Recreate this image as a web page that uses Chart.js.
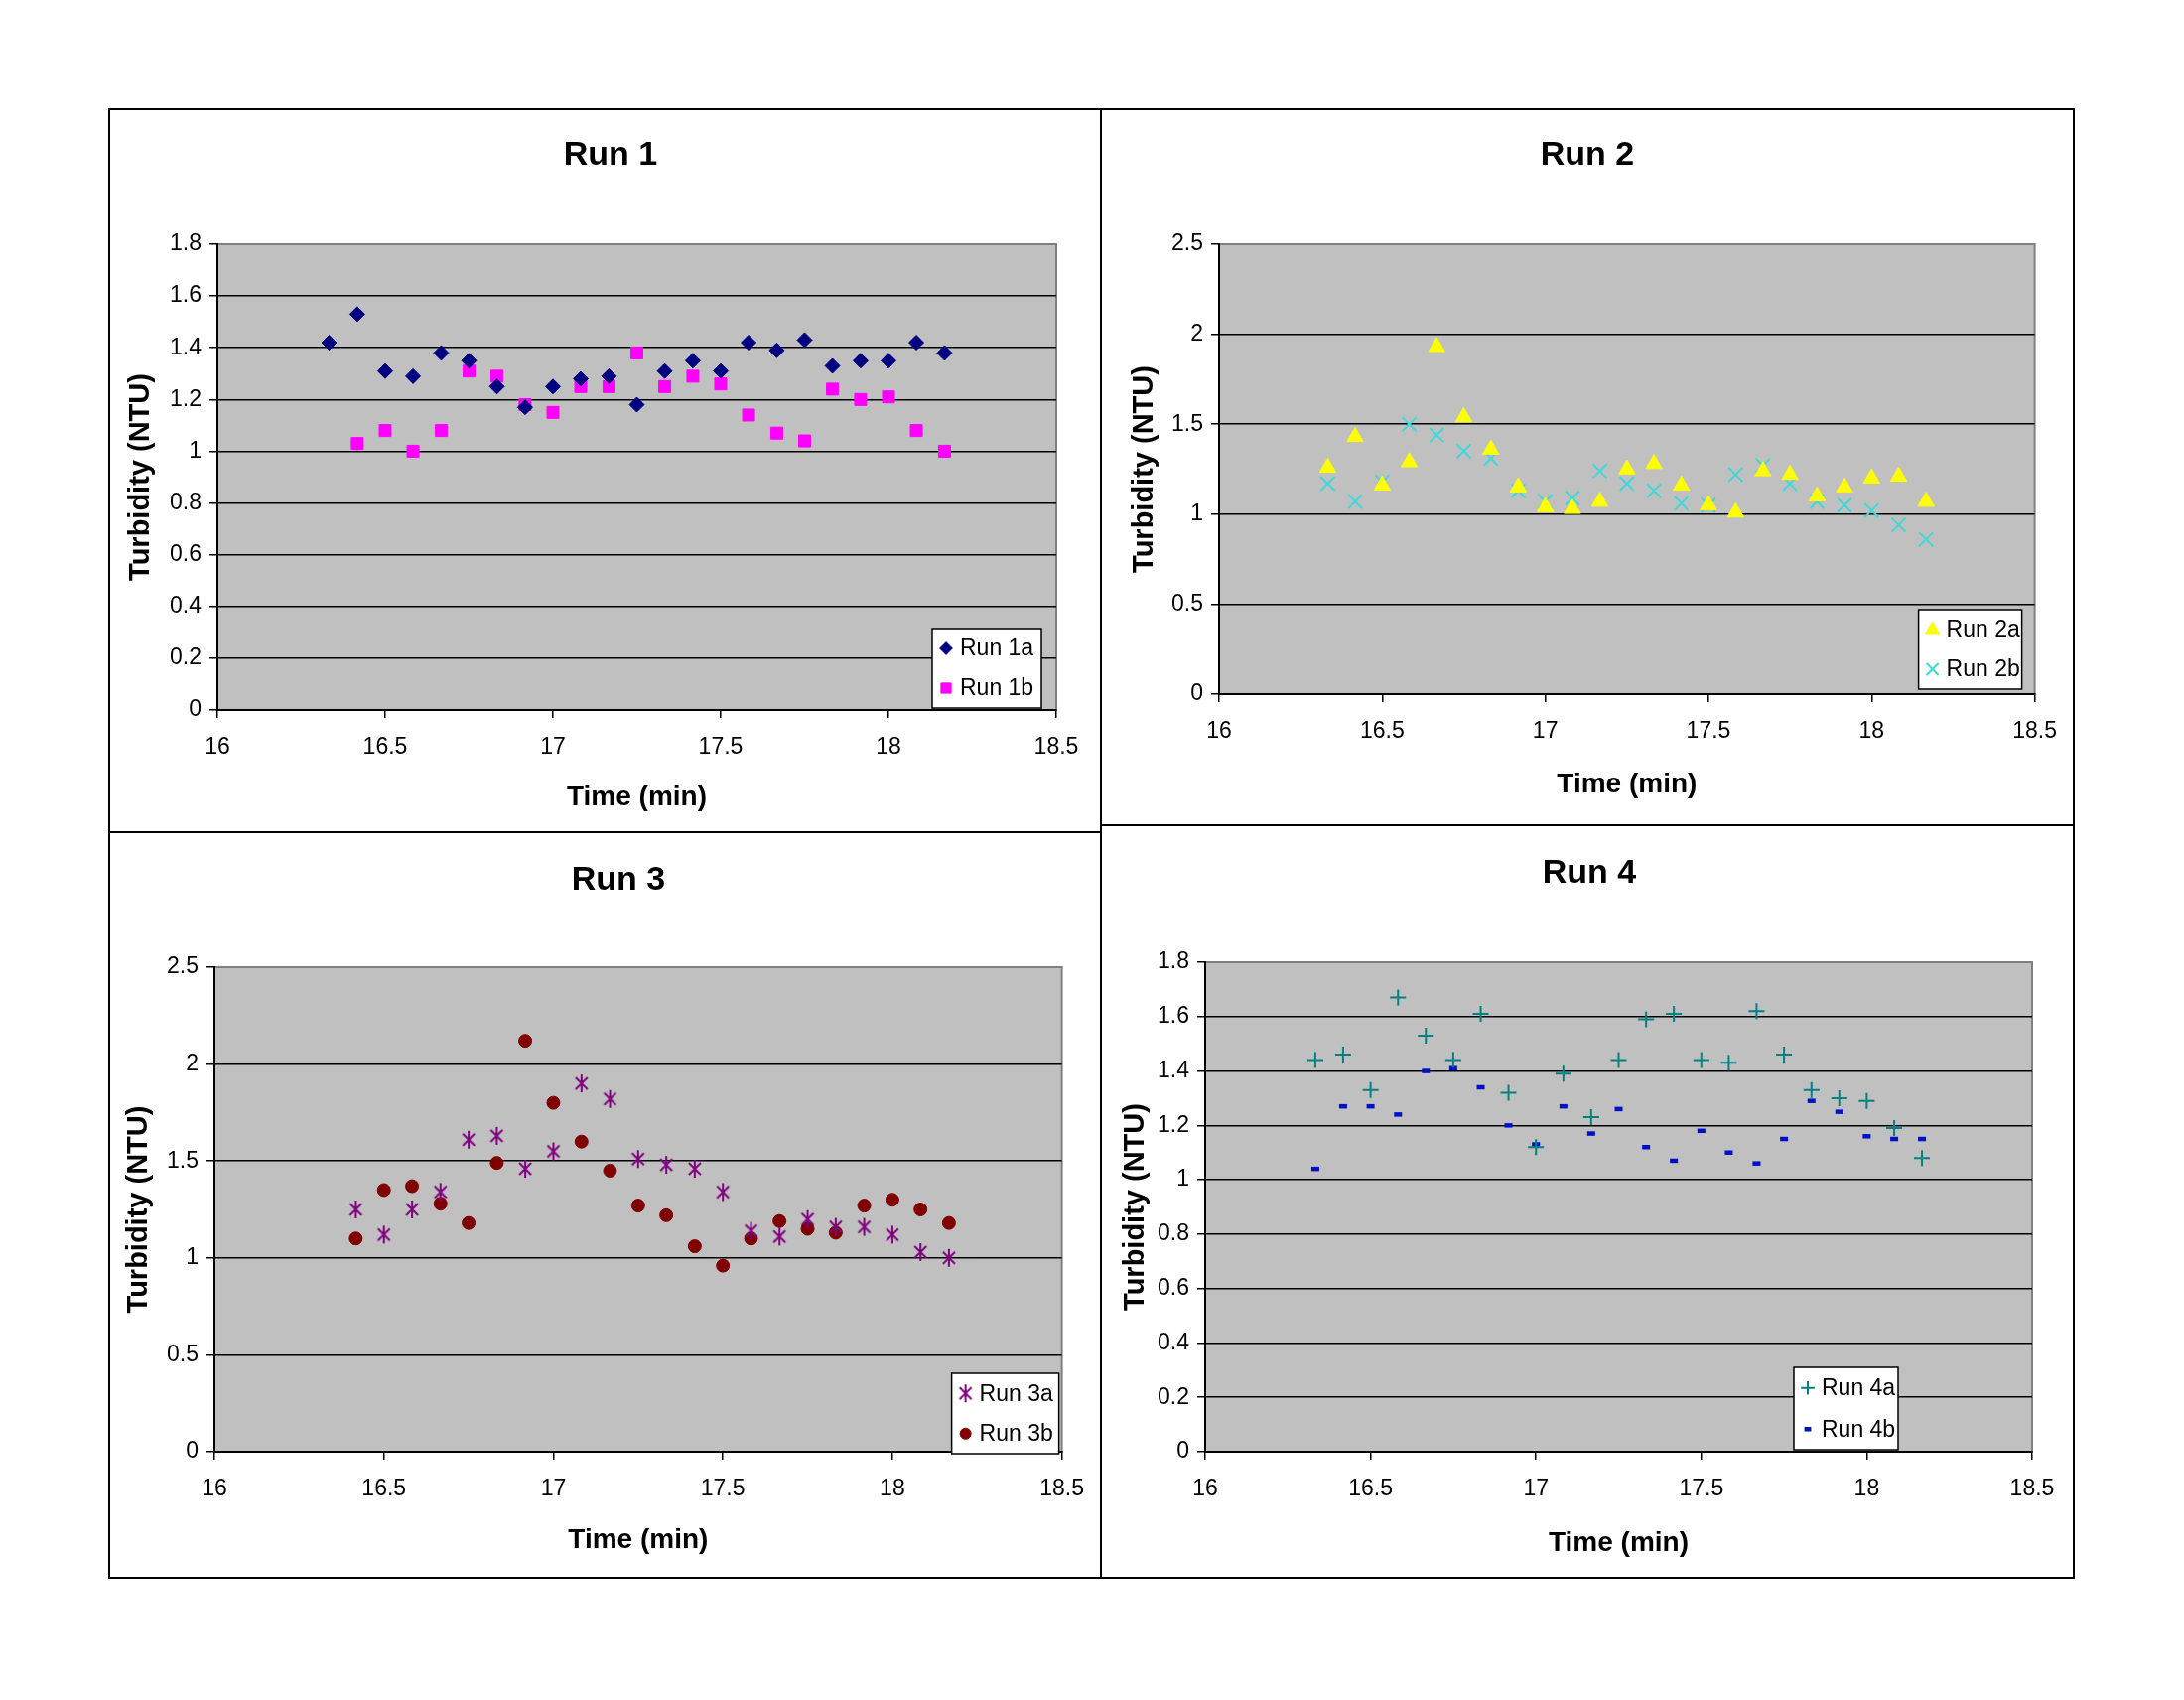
<!DOCTYPE html>
<html>
<head>
<meta charset="utf-8">
<script src="https://cdn.jsdelivr.net/npm/chart.js@4.4.1/dist/chart.umd.min.js"></script>
<style>
  body { margin: 0; background: #fff; width: 2200px; height: 1712px; position: relative; overflow: hidden; }
  canvas { position: absolute; }
  .ln { position: absolute; background: #000; }
</style>
</head>
<body>
<div class="ln" style="left:109px;top:109px;width:1981px;height:2px"></div>
<div class="ln" style="left:109px;top:1588px;width:1981px;height:2px"></div>
<div class="ln" style="left:109px;top:109px;width:2px;height:1481px"></div>
<div class="ln" style="left:2088px;top:109px;width:2px;height:1481px"></div>
<div class="ln" style="left:1108px;top:109px;width:2px;height:1481px"></div>
<div class="ln" style="left:109px;top:837px;width:1000px;height:2px"></div>
<div class="ln" style="left:1109px;top:830px;width:980px;height:2px"></div>
<canvas id="c1" width="998" height="728" style="left:110px;top:110px"></canvas>
<canvas id="c2" width="978" height="721" style="left:1110px;top:110px"></canvas>
<canvas id="c3" width="998" height="751" style="left:110px;top:838px"></canvas>
<canvas id="c4" width="978" height="758" style="left:1110px;top:831px"></canvas>
<script>
// sample times (min), one reading every 5 s
const times = [16.333, 16.417, 16.5, 16.583, 16.667, 16.75, 16.833, 16.917, 17, 17.083, 17.167, 17.25,
               17.333, 17.417, 17.5, 17.583, 17.667, 17.75, 17.833, 17.917, 18, 18.083, 18.167];

// turbidity readings (NTU), null = no reading
const run1a = [1.42, 1.53, 1.31, 1.29, 1.38, 1.35, 1.25, 1.17, 1.25, 1.28, 1.29, 1.18, 1.31, 1.35, 1.31, 1.42, 1.39, 1.43, 1.33, 1.35, 1.35, 1.42, 1.38];
const run1b = [null, 1.03, 1.08, 1.00, 1.08, 1.31, 1.29, 1.18, 1.15, 1.25, 1.25, 1.38, 1.25, 1.29, 1.26, 1.14, 1.07, 1.04, 1.24, 1.20, 1.21, 1.08, 1.00];
const run2a = [1.26, 1.43, 1.16, 1.29, 1.93, 1.54, 1.36, 1.15, 1.04, 1.03, 1.07, 1.25, 1.28, 1.16, 1.05, 1.01, 1.24, 1.22, 1.10, 1.15, 1.20, 1.21, 1.07];
const run2b = [1.17, 1.07, 1.18, 1.50, 1.44, 1.35, 1.31, 1.13, 1.07, 1.09, 1.24, 1.17, 1.13, 1.06, 1.05, 1.22, 1.27, 1.17, 1.07, 1.05, 1.02, 0.94, 0.86];
const run3a = [null, 1.25, 1.12, 1.25, 1.34, 1.61, 1.63, 1.46, 1.55, 1.90, 1.82, 1.51, 1.48, 1.46, 1.34, 1.14, 1.11, 1.20, 1.16, 1.16, 1.12, 1.03, 1.00];
const run3b = [null, 1.10, 1.35, 1.37, 1.28, 1.18, 1.49, 2.12, 1.80, 1.60, 1.45, 1.27, 1.22, 1.06, 0.96, 1.10, 1.19, 1.15, 1.13, 1.27, 1.30, 1.25, 1.18];
const run4a = [1.44, 1.46, 1.33, 1.67, 1.53, 1.44, 1.61, 1.32, 1.12, 1.39, 1.23, 1.44, 1.59, 1.61, 1.44, 1.43, 1.62, 1.46, 1.33, 1.30, 1.29, 1.19, 1.08];
const run4b = [1.04, 1.27, 1.27, 1.24, 1.40, 1.41, 1.34, 1.20, 1.13, 1.27, 1.17, 1.26, 1.12, 1.07, 1.18, 1.10, 1.06, 1.15, 1.29, 1.25, 1.16, 1.15, 1.15];

// axis ticks
const xTicks = [16, 16.5, 17, 17.5, 18, 18.5];
const yTicksLow = [0, 0.2, 0.4, 0.6, 0.8, 1, 1.2, 1.4, 1.6, 1.8];
const yTicksHigh = [0, 0.5, 1, 1.5, 2, 2.5];

const narrow = '"Liberation Sans Narrow", "Arial Narrow", "Liberation Sans", Arial, sans-serif';
const wide = '"Liberation Sans", Arial, sans-serif';

function toPoints(vals) {
  const pts = [];
  vals.forEach((v, i) => { if (v !== null) pts.push({ x: times[i], y: v }); });
  return pts;
}

// excel style star: an x with a vertical bar
function starMark(color) {
  const c = document.createElement('canvas');
  c.width = 20; c.height = 22;
  const g = c.getContext('2d');
  g.strokeStyle = color; g.lineWidth = 2;
  g.beginPath();
  g.moveTo(4, 5); g.lineTo(16, 17);
  g.moveTo(16, 5); g.lineTo(4, 17);
  g.moveTo(10, 2); g.lineTo(10, 20);
  g.stroke();
  return c;
}

function series(label, vals, style, color, radius, bw, fill) {
  return {
    label: label,
    data: toPoints(vals),
    pointStyle: style,
    pointRadius: radius,
    pointHoverRadius: radius,
    backgroundColor: fill === false ? 'transparent' : color,
    borderColor: color,
    borderWidth: bw
  };
}

const plotBg = {
  id: 'plotBg',
  beforeDraw(chart) {
    const a = chart.chartArea, ctx = chart.ctx;
    ctx.save();
    ctx.fillStyle = '#c0c0c0';
    ctx.fillRect(a.left, a.top, a.width, a.height);
    ctx.strokeStyle = '#808080';
    ctx.lineWidth = 2;
    ctx.strokeRect(a.left, a.top, a.width, a.height);
    ctx.restore();
  }
};

const panelTitle = {
  id: 'panelTitle',
  afterDraw(chart, args, opts) {
    const ctx = chart.ctx;
    ctx.save();
    ctx.font = 'bold 34px ' + narrow;
    ctx.fillStyle = '#000';
    ctx.textAlign = 'center';
    ctx.textBaseline = 'middle';
    ctx.fillText(opts.text, opts.x, opts.y);
    ctx.restore();
  }
};

const boxLegend = {
  id: 'boxLegend',
  afterDraw(chart, args, opts) {
    const a = chart.chartArea, ctx = chart.ctx;
    const x = a.right - opts.right - opts.w, y = a.bottom - opts.bottom - opts.h;
    ctx.save();
    ctx.fillStyle = '#fff';
    ctx.fillRect(x, y, opts.w, opts.h);
    ctx.strokeStyle = '#000';
    ctx.lineWidth = 1.5;
    ctx.strokeRect(x, y, opts.w, opts.h);
    ctx.font = '23px ' + wide;
    ctx.textBaseline = 'middle';
    chart.data.datasets.forEach((ds, i) => {
      const cy = y + opts.h * (i * 2 + 1) / 4;
      ctx.fillStyle = ds.backgroundColor;
      ctx.strokeStyle = ds.borderColor;
      ctx.lineWidth = ds.borderWidth;
      Chart.helpers.drawPoint(ctx, { pointStyle: ds.pointStyle, radius: ds.pointRadius * 0.85, rotation: 0, borderWidth: ds.borderWidth }, x + 14, cy);
      ctx.fillStyle = '#000';
      ctx.textAlign = 'left';
      ctx.fillText(ds.label, x + 28, cy + 1);
    });
    ctx.restore();
  }
};

function drawPanel(p) {
  const c = document.getElementById(p.id);
  const yMax = p.yTicks[p.yTicks.length - 1];
  new Chart(c, {
    type: 'scatter',
    data: { datasets: p.sets },
    options: {
      responsive: false,
      animation: false,
      devicePixelRatio: 1,
      layout: { padding: { left: 0, right: p.right, top: p.top, bottom: 0 } },
      plugins: {
        legend: { display: false },
        tooltip: { enabled: false },
        title: { display: false },
        panelTitle: p.titleBox,
        boxLegend: p.legend
      },
      scales: {
        x: {
          type: 'linear', min: 16, max: 18.5,
          afterBuildTicks: s => { s.ticks = xTicks.map(v => ({ value: v })); },
          afterFit: s => { s.height = p.bottom; },
          ticks: { callback: v => String(v), color: '#000', font: { family: narrow, size: 23 }, padding: 16, maxRotation: 0, autoSkip: false },
          grid: { drawOnChartArea: false, drawTicks: true, tickLength: 8, color: '#000', lineWidth: 1.5 },
          border: { color: '#000', width: 2 },
          title: { display: true, text: 'Time (min)', color: '#000', font: { family: narrow, size: 28, weight: 'bold', lineHeight: 1.2 }, padding: { top: 0, bottom: p.xTitleB - 16.8 } }
        },
        y: {
          type: 'linear', min: 0, max: yMax,
          afterBuildTicks: s => { s.ticks = p.yTicks.map(v => ({ value: v })); },
          afterFit: s => { s.width = p.left; },
          ticks: { callback: v => String(v), color: '#000', font: { family: narrow, size: 23 }, padding: 8, autoSkip: false },
          grid: {
            color: ctx => (ctx.tick && ctx.tick.value === yMax) ? 'rgba(0,0,0,0)' : '#000',
            tickColor: '#000', lineWidth: 1.5, tickLength: 8
          },
          border: { color: '#000', width: 2 },
          title: { display: true, text: 'Turbidity (NTU)', color: '#000', font: { family: wide, size: 29, weight: 'bold', lineHeight: 1.2 }, padding: { top: p.yTitleX - 17.4, bottom: 0 } }
        }
      }
    },
    plugins: [plotBg, panelTitle, boxLegend]
  });
}

const panels = [
  {
    id: 'c1', yTicks: yTicksLow, titleBox: { text: 'Run 1', x: 505, y: 47 },
    left: 109, top: 136, right: 44, bottom: 123, yTitleX: 32, xTitleB: 35,
    legend: { right: 15, bottom: 2, w: 110, h: 80 },
    sets: [
      series('Run 1a', run1a, 'rectRot', '#000080', 7.5, 1),
      series('Run 1b', run1b, 'rect', '#ff00ff', 8.5, 1)
    ]
  },
  {
    id: 'c2', yTicks: yTicksHigh, titleBox: { text: 'Run 2', x: 489, y: 47 },
    left: 118, top: 136, right: 35, bottom: 132, yTitleX: 43, xTitleB: 41,
    legend: { right: 13, bottom: 5, w: 104, h: 80 },
    sets: [
      series('Run 2a', run2a, 'triangle', '#ffff00', 9.5, 1),
      series('Run 2b', run2b, 'crossRot', '#40d8d8', 10, 2, false)
    ]
  },
  {
    id: 'c3', yTicks: yTicksHigh, titleBox: { text: 'Run 3', x: 513, y: 49 },
    left: 106, top: 136, right: 37, bottom: 127, yTitleX: 30, xTitleB: 38,
    legend: { right: 3, bottom: -2, w: 108, h: 81 },
    sets: [
      series('Run 3a', run3a, starMark('#800080'), '#800080', 9, 2),
      series('Run 3b', run3b, 'circle', '#800000', 6.5, 1)
    ]
  },
  {
    id: 'c4', yTicks: yTicksLow, titleBox: { text: 'Run 4', x: 491, y: 49 },
    left: 104, top: 138, right: 41, bottom: 127, yTitleX: 34, xTitleB: 35,
    legend: { right: 135, bottom: 2, w: 105, h: 83 },
    sets: [
      series('Run 4a', run4a, 'cross', '#008080', 8, 2, false),
      series('Run 4b', run4b, 'line', '#0010c8', 4, 4.5)
    ]
  }
];

panels.forEach(drawPanel);
</script>
</body>
</html>
